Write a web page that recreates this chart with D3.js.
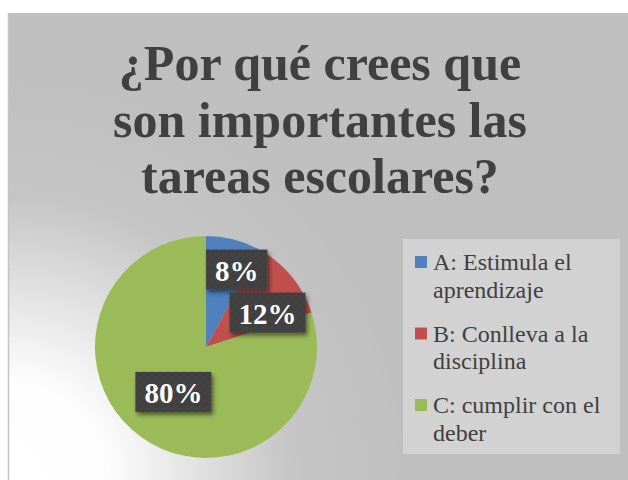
<!DOCTYPE html>
<html><head><meta charset="utf-8">
<script src="https://cdn.jsdelivr.net/npm/d3@7"></script>
<style>html,body{margin:0;padding:0;background:#fff;}svg{display:block;}</style>
</head><body>
<svg id="c" width="628" height="480"></svg>
<script>
const titleLines = ["¿Por qué crees que", "son importantes las", "tareas escolares?"];
const categories = ["A: Estimula el aprendizaje", "B: Conlleva a la disciplina", "C: cumplir con el deber"];
const values = [8, 12, 80];
const labels = ["8%", "12%", "80%"];
const colors = ["#4f81bd", "#c0504d", "#9bbb59"];

const svg = d3.select("#c");
const W = 628, H = 480;
const serif = "'Liberation Serif', 'DejaVu Serif', serif";
const defs = svg.append("defs");

const rg = defs.append("radialGradient").attr("id", "bg")
  .attr("gradientUnits", "userSpaceOnUse")
  .attr("cx", 8).attr("cy", 480).attr("r", 400);
rg.append("stop").attr("offset", "0").attr("stop-color", "#ffffff");
rg.append("stop").attr("offset", "0.25").attr("stop-color", "#fdfdfd");
rg.append("stop").attr("offset", "0.7").attr("stop-color", "#c6c6c6");
rg.append("stop").attr("offset", "1").attr("stop-color", "#bfbfbf");

const sh = defs.append("filter").attr("id", "sh").attr("x", "-20%").attr("y", "-20%").attr("width", "150%").attr("height", "160%");
sh.append("feDropShadow").attr("dx", 2).attr("dy", 3).attr("stdDeviation", 2).attr("flood-color", "#000").attr("flood-opacity", 0.5);

const pat = defs.append("pattern").attr("id", "tex").attr("patternUnits", "userSpaceOnUse").attr("width", 8).attr("height", 8);
pat.append("rect").attr("width", 8).attr("height", 8).attr("fill", "#404040");
pat.append("path").attr("d", "M0,6 L3,3 M4,8 L7,5").attr("stroke", "#4c4c4c").attr("stroke-width", 1);

// background
svg.append("rect").attr("x", 8).attr("y", 13).attr("width", W - 8).attr("height", H - 13).attr("fill", "url(#bg)");
svg.append("line").attr("x1", 8.5).attr("x2", 8.5).attr("y1", 13).attr("y2", H).attr("stroke", "#c4c4c4").attr("stroke-width", 1.5);

// title
const title = svg.append("text").attr("text-anchor", "middle").attr("fill", "#404040")
  .attr("font-family", serif).attr("font-weight", "bold").attr("font-size", 50);
titleLines.forEach((t, i) => {
  title.append("tspan").attr("x", 320).attr("y", 80 + i * 56.5).text(t);
});

// pie
const cx = 206, cy = 347, r = 111;
const pie = d3.pie().sort(null).value(d => d)(values);
const arc = d3.arc().innerRadius(0).outerRadius(r);
const g = svg.append("g").attr("transform", `translate(${cx},${cy})`);
g.selectAll("path.s").data(pie).join("path").attr("class", "s")
  .attr("d", arc).attr("fill", (d, i) => colors[i]);

// labels (best-fit style)
const placed = [];
pie.forEach((d, i) => {
  const big = (d.endAngle - d.startAngle) > Math.PI;
  const lr = big ? r * 0.5 : r * 0.72;
  const la = d3.arc().innerRadius(lr).outerRadius(lr);
  let [x, y] = la.centroid(d);
  const lg = g.append("g");
  const t = lg.append("text").attr("text-anchor", "middle").attr("fill", "#fff")
    .attr("font-family", serif).attr("font-weight", "bold").attr("font-size", 29)
    .attr("dominant-baseline", "central").text(labels[i]);
  const bb = t.node().getBBox();
  const bw = bb.width + 18, bh = 40;
  if (d.endAngle <= Math.PI && x - bw / 2 < 0) x = bw / 2;
  for (const p of placed) {
    if (Math.abs(p.x - x) < (p.w + bw) / 2 && Math.abs(p.y - y) < (p.h + bh) / 2) {
      y = p.y + (p.h + bh) / 2 + 3;
    }
  }
  placed.push({x, y, w: bw, h: bh});
  lg.insert("rect", "text").attr("x", x - bw / 2).attr("y", y - bh / 2).attr("width", bw).attr("height", bh)
    .attr("fill", "url(#tex)").attr("filter", "url(#sh)");
  t.attr("x", x).attr("y", y + 1);
});

// legend
const lgX = 403, lgY = 239;
svg.append("rect").attr("x", lgX).attr("y", lgY).attr("width", 217).attr("height", 215)
  .attr("fill", "#ffffff").attr("fill-opacity", 0.3);
const maxW = 182;
categories.forEach((c, i) => {
  const y0 = lgY + 31 + i * 71.5;
  svg.append("rect").attr("x", 415).attr("y", y0 - 14).attr("width", 12).attr("height", 12).attr("fill", colors[i]);
  const t = svg.append("text").attr("fill", "#404040").attr("font-family", serif).attr("font-size", 24);
  const words = c.split(" ");
  let line = [], lines = [];
  const probe = t.append("tspan").attr("x", 433);
  words.forEach(w => {
    const test = line.concat([w]).join(" ");
    probe.text(test);
    if (probe.node().getComputedTextLength() > maxW && line.length) { lines.push(line.join(" ")); line = [w]; }
    else line.push(w);
  });
  lines.push(line.join(" "));
  probe.remove();
  lines.forEach((l, k) => t.append("tspan").attr("x", 433).attr("y", y0 + k * 27.5).text(l));
});
</script>
</body></html>
